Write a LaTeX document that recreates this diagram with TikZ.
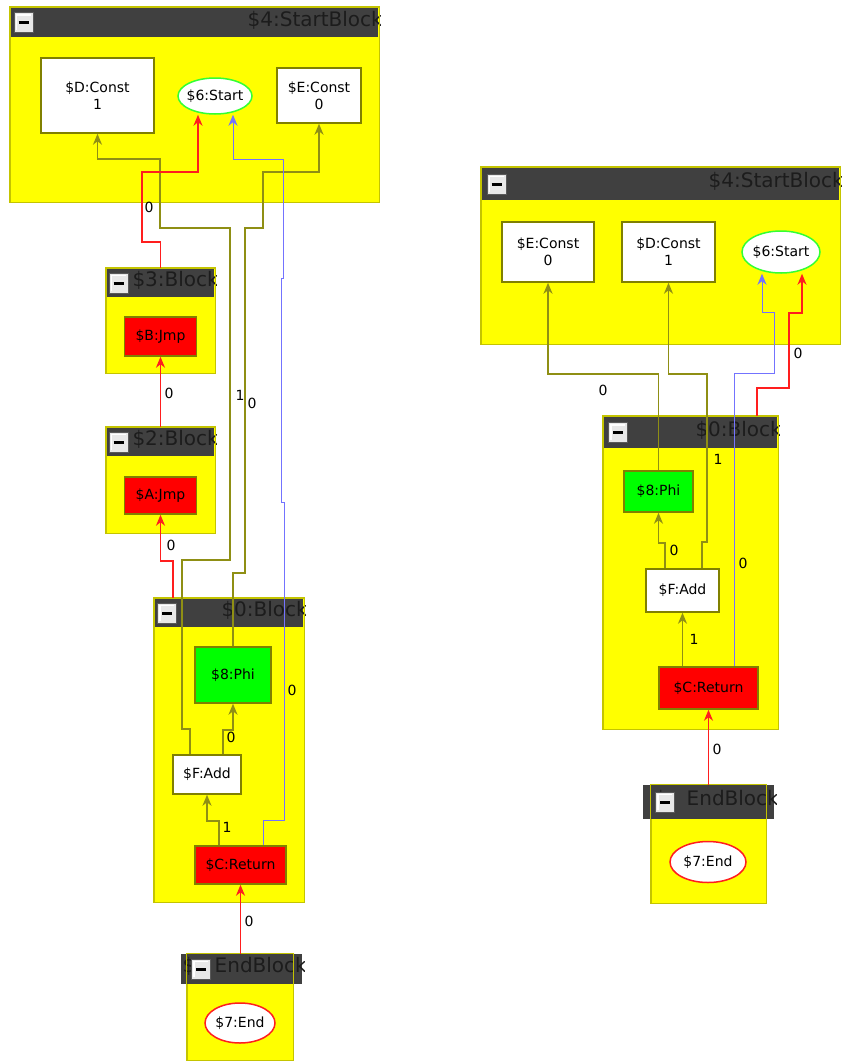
\documentclass[tikz,border=0pt]{standalone}
\usepackage{fontspec}
\setmainfont{DejaVu Sans}
\usepackage{tikz}
\usetikzlibrary{arrows.meta,positioning,shapes.geometric,calc}
\definecolor{blkfill}{HTML}{FFFF00}
\definecolor{blkrim}{HTML}{C4C400}
\definecolor{headgray}{HTML}{404040}
\definecolor{headink}{HTML}{1C1C1C}
\definecolor{datacol}{HTML}{8F8F14}
\definecolor{rimolive}{HTML}{808000}
\definecolor{ctrlred}{HTML}{FF1E1E}
\definecolor{memblue}{HTML}{7373FF}
\definecolor{phigrn}{HTML}{00FF00}
\definecolor{startrim}{HTML}{33FF33}

% block title bar: name, x1, y1, x2, y2, button x, title
\newcommand{\blockhead}[7]{%
  \fill[headgray] (#2,#3) rectangle (#4,#5);
  \begin{scope}
    \clip (#2,#3) rectangle ({#4+2},#5);
    \node[headtxt,anchor=mid east] (#1-title) at ({#4+5},{(#3+#5)/2+1}) {#7};
  \end{scope}
  \node[minbtn] (#1-btn) at (#6,{(#3+#5)/2}) {\rule{10pt}{3pt}};
}

\begin{document}
\begin{tikzpicture}[x=1pt,y=-1pt,
  block/.style={rectangle,draw=blkrim,fill=blkfill,line width=1pt,inner sep=0pt},
  irnode/.style={rectangle,draw=rimolive,line width=1.5pt,inner sep=0pt,
                 font=\fontsize{14}{17}\selectfont,align=center},
  constnode/.style={irnode,fill=white},
  jmpnode/.style={irnode,fill=red},
  phinode/.style={irnode,fill=phigrn},
  startnode/.style={ellipse,draw=startrim,fill=white,line width=1.5pt,inner sep=0pt,
                    font=\fontsize{14}{17}\selectfont},
  endnode/.style={startnode,draw=ctrlred},
  minbtn/.style={rectangle,fill=gray!18,draw=black!65,line width=1pt,inner sep=0pt,
                 minimum width=19pt,minimum height=20pt,
                 path picture={\draw[white,line width=1.5pt]
                   ([shift={(2.5,-2.5)}]path picture bounding box.south west)
                   |- ([shift={(-2.5,2.5)}]path picture bounding box.north east);}},
  headtxt/.style={text=headink,font=\fontsize{20}{24}\selectfont,inner sep=0pt},
  elabel/.style={font=\fontsize{14}{16}\selectfont,inner sep=0pt},
  dataarr/.style={datacol,line width=1.8pt,-{Stealth[length=11pt,width=9pt,inset=3.5pt]}},
  ctrlarr/.style={ctrlred,line width=1.5pt,-{Stealth[length=11pt,width=9pt,inset=3.5pt]}},
  memarr/.style={memblue,line width=1pt,-{Stealth[length=11pt,width=9pt,inset=3.5pt]}}
]
  \useasboundingbox (0,0) rectangle (848,1061);

  % left graph: blocks
  \node[block,minimum width=369pt,minimum height=195pt] (blkStartL) at (194.5,104.5) {};
  \node[block,minimum width=109pt,minimum height=105pt] (blk3) at (160.5,320.5) {};
  \node[block,minimum width=109pt,minimum height=106pt] (blk2) at (160.5,480) {};
  \node[block,minimum width=150pt,minimum height=304pt] (blk0L) at (229,750) {};
  \node[block,minimum width=106pt,minimum height=106pt] (endBlkL) at (240,1007) {};

  % right graph: blocks
  \node[block,minimum width=359pt,minimum height=177pt] (blkStartR) at (660.5,255.5) {};
  \node[block,minimum width=175pt,minimum height=313pt] (blk0R) at (690.5,572.5) {};
  \node[block,minimum width=115pt,minimum height=118pt] (endBlkR) at (708.5,844) {};

  % title bars
  \blockhead{hStartL}{11}{8}{378}{37}{23.5}{\$4:StartBlock}
  \blockhead{h3}{107}{269}{214}{297}{118.5}{\$3:Block}
  \blockhead{h2}{107}{428}{214}{456}{118.5}{\$2:Block}
  \blockhead{h0L}{155}{599}{303}{627}{167}{\$0:Block}
  \blockhead{hEndL}{181}{954}{302}{984}{201}{\$\hphantom{0:}EndBlock}
  \blockhead{hStartR}{482}{168}{839}{200}{496.5}{\$4:StartBlock}
  \blockhead{h0R}{604}{417}{777}{448}{618}{\$0:Block}
  \blockhead{hEndR}{643}{785}{774}{819}{665}{\$\hphantom{0:}EndBlock}

  \foreach \b in {blkStartL,blk3,blk2,blk0L,endBlkL,blkStartR,blk0R,endBlkR}
    \draw[blkrim,line width=1pt] (\b.north west) rectangle (\b.south east);

  % left graph: nodes
  \node[constnode,minimum width=113pt,minimum height=75pt] (constDL) at (97.5,95.5) {\$D:Const\\1};
  \node[startnode,minimum width=74pt,minimum height=36pt] (startL) at (215,96) {\makebox[0pt]{\$6:Start}};
  \node[constnode,minimum width=84pt,minimum height=55pt] (constEL) at (319,95.5) {\$E:Const\\0};
  \node[jmpnode,minimum width=72pt,minimum height=39pt] (jmpB) at (160.5,336.5) {\$B:Jmp};
  \node[jmpnode,minimum width=72pt,minimum height=37pt] (jmpA) at (160.5,495.5) {\$A:Jmp};
  \node[phinode,minimum width=76pt,minimum height=56pt] (phiL) at (233,675) {\$8:Phi};
  \node[constnode,minimum width=68pt,minimum height=39pt] (addL) at (207,774.5) {\$F:Add};
  \node[jmpnode,minimum width=91pt,minimum height=38pt] (retL) at (240.5,865) {\$C:Return};
  \node[endnode,minimum width=70pt,minimum height=40pt] (endL) at (240,1023) {\makebox[0pt]{\$7:End}};

  % right graph: nodes
  \node[constnode,minimum width=92pt,minimum height=60pt] (constER) at (548,252) {\$E:Const\\0};
  \node[constnode,minimum width=93pt,minimum height=60pt] (constDR) at (668.5,252) {\$D:Const\\1};
  \node[startnode,minimum width=78pt,minimum height=42pt] (startR) at (781,252) {\makebox[0pt]{\$6:Start}};
  \node[phinode,minimum width=69pt,minimum height=41pt] (phiR) at (658.5,491.5) {\$8:Phi};
  \node[constnode,minimum width=73pt,minimum height=43pt] (addR) at (682.5,590.5) {\$F:Add};
  \node[jmpnode,minimum width=99pt,minimum height=42pt] (retR) at (708.5,688) {\$C:Return};
  \node[endnode,minimum width=76pt,minimum height=41pt] (endR) at (708,862) {\makebox[0pt]{\$7:End}};

  % left graph: edges
  \draw[dataarr] ($(addL.north)+(-17,0)$) |- (182,729) -- (182,560) -| (230,228) -| (160,159) -| (constDL.south);
  \draw[dataarr] (phiL.north) |- (245,573) |- (263,228) |- (319,172) -- (constEL.south);
  \draw[ctrlarr] (blk3.north) |- (142,242) |- (198,172) -- ($(startL.south)+(-17,0)$);
  \draw[ctrlarr] (blk2.north) -- (jmpB.south);
  \draw[ctrlarr] ($(blk0L.north)+(-56,0)$) |- ($(jmpA.south)+(0,46)$) -- (jmpA.south);
  \draw[dataarr] ($(addL.north)+(16,0)$) |- ($(phiL.south)+(0,26)$) -- (phiL.south);
  \draw[dataarr] ($(retL.north)+(-21.5,0)$) |- ($(addL.south)+(0,26)$) -- (addL.south);
  \draw[memarr] ($(retL.north)+(22.5,0)$) |- (284,820) -- (284,502) -- (281,502) -- (281,278)
    -- (283,278) -- (283,159) -| ($(startL.south)+(18,0)$);
  \draw[ctrlarr] (retL.south |- endBlkL.north) -- (retL.south);

  % right graph: edges
  \draw[dataarr] (phiR.north) |- ($(constER.south)+(0,91)$) -- (constER.south);
  \draw[dataarr] ($(addR.north)+(19.5,0)$) |- (707,542) |- ($(constDR.south)+(0,91)$) -- (constDR.south);
  \draw[memarr] ($(retR.north)+(25.5,0)$) |- (774,373) |- ($(startR.south)+(-19,39)$) -- ($(startR.south)+(-19,0)$);
  \draw[ctrlarr] ($(blk0R.north)+(66.5,0)$) |- (789,388) |- ($(startR.south)+(21,39)$) -- ($(startR.south)+(21,0)$);
  \draw[dataarr] ($(addR.north)+(-17.5,0)$) |- ($(phiR.south)+(0,30)$) -- (phiR.south);
  \draw[dataarr] (addR.south |- retR.north) -- (addR.south);
  \draw[ctrlarr] (retR.south |- endBlkR.north) -- (retR.south);

  % edge labels
  \node[elabel] (lDL) at (240,395) {1};
  \node[elabel] (lEL) at (252,403) {0};
  \node[elabel] (lSL) at (149,207) {0};
  \node[elabel] (lB) at (169,393) {0};
  \node[elabel] (lA) at (171,545) {0};
  \node[elabel] (lPL) at (231,737) {0};
  \node[elabel] (lFL) at (227,827) {1};
  \node[elabel] (lML) at (292,690) {0};
  \node[elabel] (lCL) at (249,921) {0};
  \node[elabel] (lER) at (603,390) {0};
  \node[elabel] (lDR) at (718,459) {1};
  \node[elabel] (lMR) at (743,563) {0};
  \node[elabel] (lSR) at (798,353) {0};
  \node[elabel] (lPR) at (674,550) {0};
  \node[elabel] (lFR) at (694,639) {1};
  \node[elabel] (lCR) at (717,749) {0};
\end{tikzpicture}
\end{document}
